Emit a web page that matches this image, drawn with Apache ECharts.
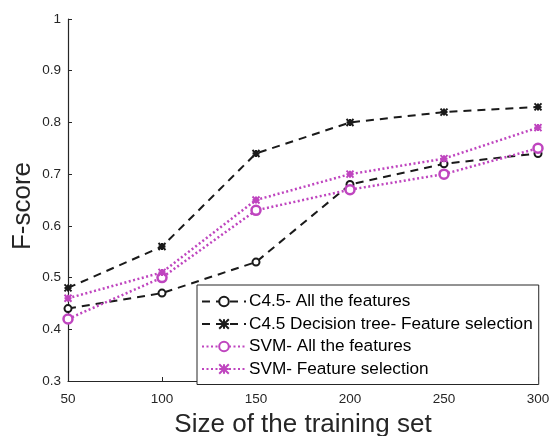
<!DOCTYPE html>
<html>
<head>
<meta charset="utf-8">
<script src="https://cdn.jsdelivr.net/npm/echarts@6/dist/echarts.min.js"></script>
<style>html,body{margin:0;padding:0;background:#fff}#c{width:550px;height:436px}</style>
</head>
<body>
<div id="c"></div>
<script>
var sizes = [50, 100, 150, 200, 250, 300];
var c45All = [0.44, 0.47, 0.53, 0.68, 0.72, 0.74];
var c45FS = [0.48, 0.56, 0.74, 0.80, 0.82, 0.83];
var svmAll = [0.42, 0.50, 0.63, 0.67, 0.70, 0.75];
var svmFS = [0.46, 0.51, 0.65, 0.70, 0.73, 0.79];
var seriesNames = ['C4.5- All the features', 'C4.5 Decision tree- Feature selection', 'SVM- All the features', 'SVM- Feature selection'];
var yTicks = ['0.3', '0.4', '0.5', '0.6', '0.7', '0.8', '0.9', '1'];
var yTitle = 'F-score';
var xTitle = 'Size of the training set';

var BLACK = '#1a1a1a';
var MAG = '#bf45bf';
var TXT = '#262626';
var star = 'path://M0,0L10,10M10,0L0,10M5,0L5,10M0,5L10,5';

function pairs(v) { return sizes.map(function (x, i) { return [x, v[i]]; }); }

function mk(name, vals, color, dash, symbol, ssize, width, bw) {
  return {
    name: name, type: 'line', data: pairs(vals),
    symbol: symbol, symbolSize: ssize, showSymbol: true,
    lineStyle: { color: color, width: width, type: dash },
    itemStyle: { color: symbol === 'circle' ? '#fff' : color, borderColor: color, borderWidth: bw },
    emphasis: { disabled: true }, animation: false
  };
}

var chart = echarts.init(document.getElementById('c'));
chart.setOption({
  backgroundColor: '#fff',
  animation: false,
  grid: { left: 68, right: 12, top: 19, bottom: 55, outerBoundsMode: 'none', containLabel: false },
  graphic: [{
    type: 'text', x: 22.5, y: 206, rotation: Math.PI / 2, silent: true,
    style: { text: yTitle, font: '26px "Liberation Sans"', fill: TXT, align: 'center', verticalAlign: 'middle' }
  }],
  xAxis: {
    type: 'value', min: 50, max: 300, interval: 50,
    name: xTitle, nameLocation: 'middle', nameGap: 31,
    nameTextStyle: { fontFamily: 'Liberation Sans', fontSize: 26, color: TXT },
    axisLine: { lineStyle: { color: TXT, width: 1.2 } },
    axisTick: { inside: true, length: 4, lineStyle: { color: TXT } },
    axisLabel: { fontFamily: 'Liberation Sans', fontSize: 13.5, color: TXT, margin: 11 },
    splitLine: { show: false }
  },
  yAxis: {
    type: 'value', min: 0.3, max: 1, interval: 0.1,
    axisLine: { show: true, lineStyle: { color: TXT, width: 1.2 } },
    axisTick: { show: true, inside: true, length: 4, lineStyle: { color: TXT } },
    axisLabel: {
      fontFamily: 'Liberation Sans', fontSize: 13.5, color: TXT, margin: 7,
      formatter: function (v) { return yTicks[Math.round((v - 0.3) * 10)]; }
    },
    splitLine: { show: false }
  },
  legend: {
    orient: 'vertical', left: 197, top: 285,
    data: seriesNames,
    itemWidth: 44, itemHeight: 12, itemGap: 5.5,
    padding: [8, 6, 7, 4],
    borderColor: TXT, borderWidth: 1, backgroundColor: '#fff',
    textStyle: { fontFamily: 'Liberation Sans', fontSize: 17.2, color: '#000', padding: [0, 0, 0, -2] }
  },
  series: [
    mk(seriesNames[0], c45All, BLACK, [8, 6], 'circle', 7, 2, 2),
    mk(seriesNames[1], c45FS, BLACK, [8, 6], star, 7, 2, 2),
    mk(seriesNames[2], svmAll, MAG, [2, 2.5], 'circle', 9, 2.5, 2.5),
    mk(seriesNames[3], svmFS, MAG, [2, 2.5], star, 7, 2.5, 2)
  ]
});
</script>
</body>
</html>
